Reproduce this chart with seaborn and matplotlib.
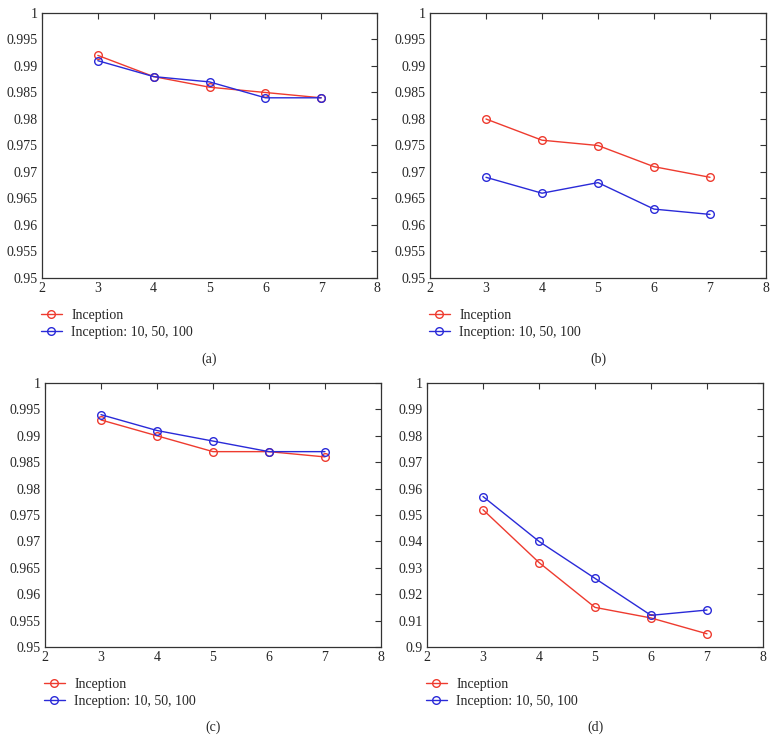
import pandas as pd
import matplotlib
matplotlib.use("Agg")
import matplotlib.pyplot as plt
import seaborn as sns
from matplotlib.ticker import FuncFormatter, MultipleLocator
from matplotlib.lines import Line2D

# data
x_vals = [3, 4, 5, 6, 7]
series_names = ["Inception", "Inception: 10, 50, 100"]
panel_labels = ["(a)", "(b)", "(c)", "(d)"]

a_inception = [0.992, 0.988, 0.986, 0.985, 0.984]
a_multi = [0.991, 0.988, 0.987, 0.984, 0.984]
b_inception = [0.980, 0.976, 0.975, 0.971, 0.969]
b_multi = [0.969, 0.966, 0.968, 0.963, 0.962]
c_inception = [0.993, 0.990, 0.987, 0.987, 0.986]
c_multi = [0.994, 0.991, 0.989, 0.987, 0.987]
d_inception = [0.952, 0.932, 0.915, 0.911, 0.905]
d_multi = [0.957, 0.940, 0.926, 0.912, 0.914]

y_ranges = [(0.95, 1.0, 0.005), (0.95, 1.0, 0.005), (0.95, 1.0, 0.005), (0.9, 1.0, 0.01)]

colors = {"Inception": "#ee3b2f", "Inception: 10, 50, 100": "#2a2ad8"}

sns.set_theme(style="white")
plt.rcParams['font.family'] = ['Liberation Serif', 'DejaVu Serif']
plt.rcParams['xtick.direction'] = 'in'
plt.rcParams['ytick.direction'] = 'in'

W, H = 776, 754
fig = plt.figure(figsize=(W / 100, H / 100), dpi=100)

# axes boxes in pixels: left, top, right, bottom
boxes = [(42, 13, 377, 278), (430, 13, 766, 278),
         (45, 383, 381, 647), (427, 383, 763, 647)]

panels = [(a_inception, a_multi), (b_inception, b_multi),
          (c_inception, c_multi), (d_inception, d_multi)]

for i, ((y1, y2), (l, t, r, b)) in enumerate(zip(panels, boxes)):
    ax = fig.add_axes([l / W, 1 - b / H, (r - l) / W, (b - t) / H])
    df = pd.DataFrame({
        "x": x_vals * 2,
        "y": y1 + y2,
        "series": [series_names[0]] * 5 + [series_names[1]] * 5,
    })
    sns.lineplot(data=df, x="x", y="y", hue="series", palette=colors,
                 marker="o", markersize=5.5, markerfacecolor="none",
                 markeredgewidth=1.0, linewidth=1.0, ax=ax, legend=False)
    for ln, name in zip(ax.lines, series_names):
        ln.set_markeredgecolor(colors[name])

    ylo, yhi, step = y_ranges[i]
    ax.set_xlim(2, 8)
    ax.set_ylim(ylo, yhi)
    ax.xaxis.set_major_locator(MultipleLocator(1))
    ax.yaxis.set_major_locator(MultipleLocator(step))
    ax.yaxis.set_major_formatter(FuncFormatter(lambda v, p: f"{round(v, 4):g}"))
    ax.tick_params(axis="both", which="both", labelsize=10, length=4, width=0.8,
                   top=True, right=True, color="#333333", pad=3)
    ax.set_xlabel("")
    ax.set_ylabel("")
    for s in ax.spines.values():
        s.set_color("#333333")
        s.set_linewidth(0.9)

    handles = [Line2D([0], [0], color=colors[n], marker="o", markerfacecolor="none",
                      markeredgecolor=colors[n], markersize=5.5, linewidth=1.0)
               for n in series_names]
    ax.legend(handles, series_names, loc="upper left",
              bbox_to_anchor=(-0.02, -0.095), frameon=False, fontsize=10,
              handlelength=1.5, handletextpad=0.7, labelspacing=0.3,
              borderaxespad=0.0)
    ax.text(0.5, -0.305, panel_labels[i], transform=ax.transAxes,
            ha="center", va="center", fontsize=10)

fig.savefig("out.png", dpi=100)
